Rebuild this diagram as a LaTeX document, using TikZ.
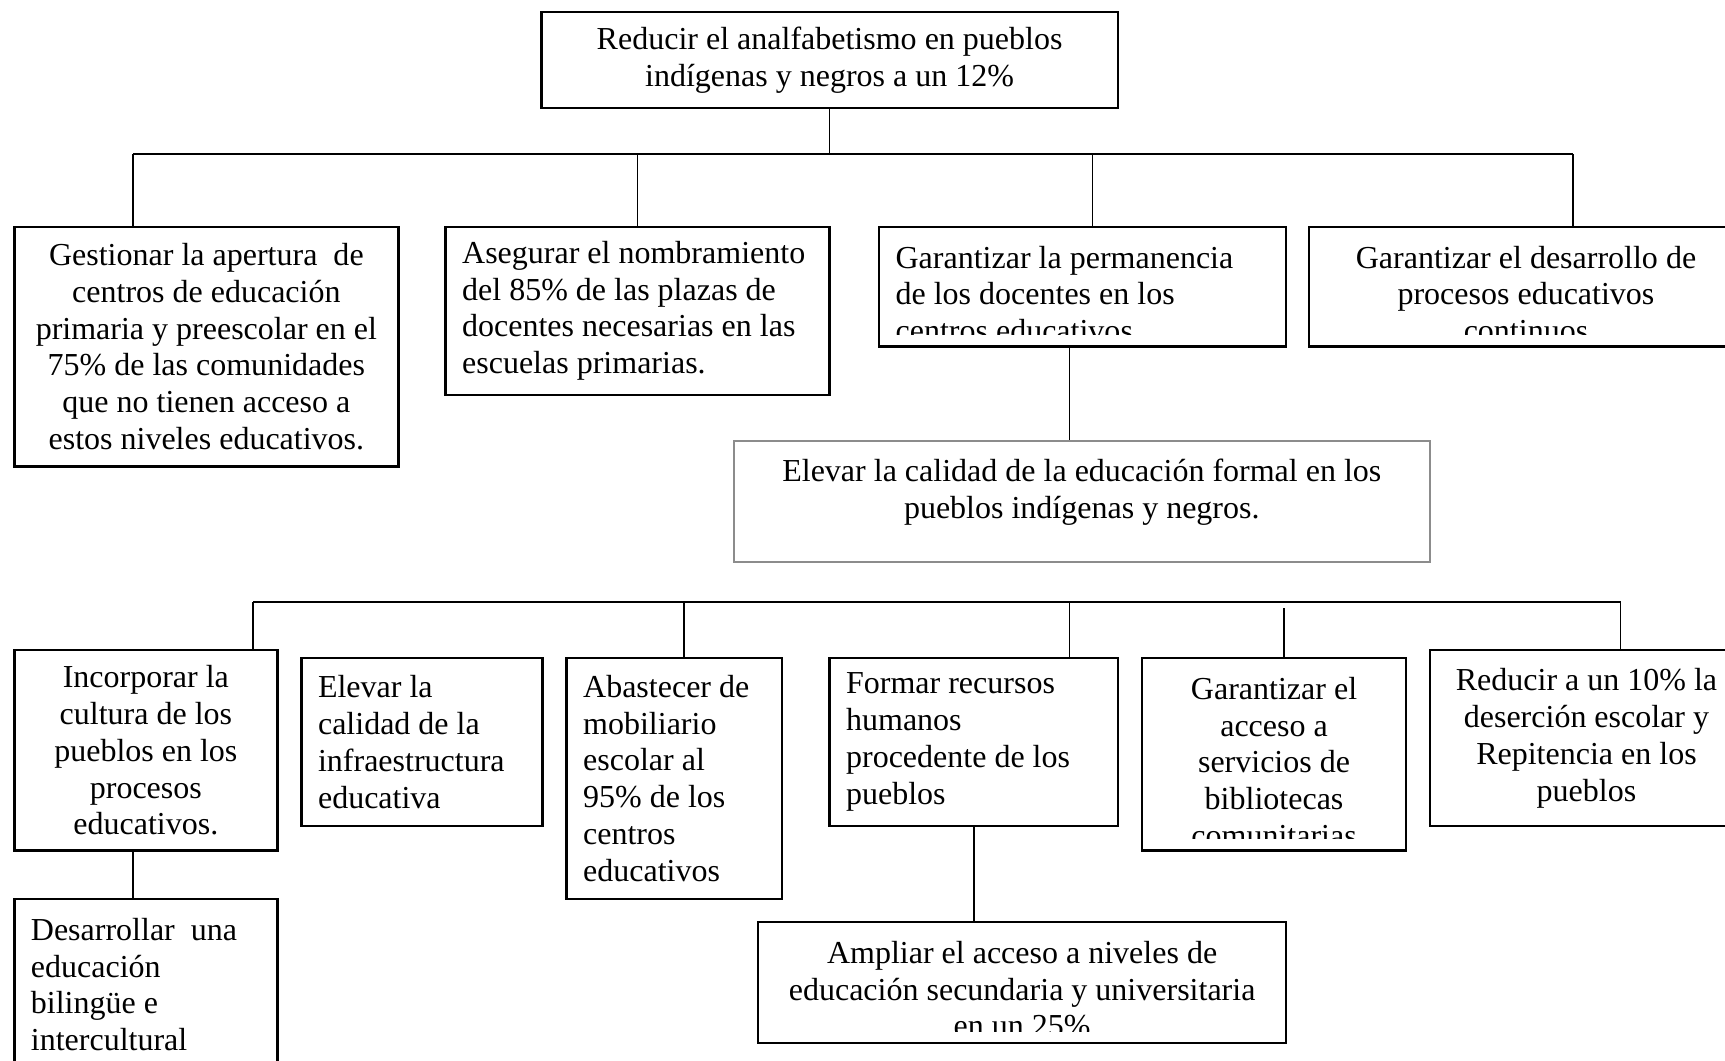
\documentclass[tikz,border=0pt]{standalone}
\usepackage{fontspec}
\setmainfont{Liberation Serif}
\usepackage{tikz}
\def\dpx{0.0145cm}
\tikzset{
	box/.style 2 args={draw,line width=0.9pt,anchor=north west,inner sep=0pt,minimum width=#1*\dpx,minimum height=#2*\dpx,font=\fontsize{12}{13.8}\selectfont,align=center},
	lbox/.style 2 args={box={#1}{#2},align=flush left,text width=(#1-30)*\dpx},
	txt/.style={inner sep=0pt,anchor=north,font=\fontsize{12}{13.8}\selectfont},
	bus/.style={line width=0.9pt},
	link/.style={line width=0.6pt}
}

\begin{document}
\begin{tikzpicture}[x=0.0145cm,y=-0.0145cm]
					\useasboundingbox (0,0) rectangle (1568,964);

					\node [box={524}{87}] (root) at (491,10) {Reducir el analfabetismo en pueblos\\indígenas y negros a un 12\%};
					\node [box={349}{218}] (b1) at (12,205) {Gestionar la apertura\ \ de\\centros de educación\\primaria y preescolar en el\\75\% de las comunidades\\que no tienen acceso a\\estos niveles educativos.};
					\node [lbox={349}{153}] (b2) at (404,205) {Asegurar el nombramiento\\del 85\% de las plazas de\\docentes necesarias en las\\escuelas primarias.};
					\node [box={370}{109}] (b3) at (798,205) {};
					\node [box={394}{109}] (b4) at (1189,205) {};
					\node [box={633}{110},draw=black!45,line width=0.7pt] (mid) at (666,400) {};

					\node [box={239}{182}] (a) at (12,590) {Incorporar la\\cultura de los\\pueblos en los\\procesos\\educativos.};
					\node [lbox={219}{153}] (b) at (273,597) {Elevar la\\calidad de la\\infraestructura\\educativa};
					\node [lbox={196}{219}] (c) at (514,597) {Abastecer de\\mobiliario\\escolar al\\95\% de los\\centros\\educativos};
					\node [lbox={262}{153}] (d) at (753,597) {Formar recursos\\humanos\\procedente de los\\pueblos};
					\node [box={240}{175}] (e) at (1037,597) {};
					\node [box={284}{160}] (f) at (1299,590) {Reducir a un 10\% la\\deserción escolar y\\Repitencia en los\\pueblos};
					\node [box={239}{200}] (sub) at (12,816) {};
					\node [box={480}{110}] (amp) at (688,837) {};

					% texts cut at the bottom of their boxes
					\begin{scope}
						\clip ([yshift=12*\dpx]b3.south west) rectangle (b3.north east);
						\node [txt,align=flush left,text width=340*\dpx] (t3) at ([yshift=-18*\dpx]b3.north) {Garantizar la permanencia\\de los docentes en los\\centros educativos};
					\end{scope}
					\begin{scope}
						\clip ([yshift=12*\dpx]b4.south west) rectangle (b4.north east);
						\node [txt,align=center] (t4) at ([yshift=-18*\dpx]b4.north) {Garantizar el desarrollo de\\procesos educativos\\continuos};
					\end{scope}
					\begin{scope}
						\clip ([yshift=12*\dpx]e.south west) rectangle (e.north east);
						\node [txt,align=center] (te) at ([yshift=-18*\dpx]e.north) {Garantizar el\\acceso a\\servicios de\\bibliotecas\\comunitarias};
					\end{scope}
					\begin{scope}
						\clip ([yshift=12*\dpx]amp.south west) rectangle (amp.north east);
						\node [txt,align=center] (tamp) at ([yshift=-18*\dpx]amp.north) {Ampliar el acceso a niveles de\\educación secundaria y universitaria\\en un 25\%};
					\end{scope}
					\node [txt,align=center] (tmid) at ([yshift=-17*\dpx]mid.north) {Elevar la calidad de la educación formal en los\\pueblos indígenas y negros.};
					\node [txt,align=flush left,text width=209*\dpx] (tsub) at ([yshift=-18*\dpx]sub.north) {Desarrollar\ \ una\\educación\\bilingüe e\\intercultural};

					\coordinate (j1) at (121,140);
					\coordinate (j3) at (993,140);
					\coordinate (j4) at (1430,140);
					\coordinate (k1) at (230,547);
					\coordinate (k2) at (622,547);
					\coordinate (k3) at (972,547);
					\coordinate (k5) at (1167,553);
					\coordinate (k6) at (1473,547);

					\draw [link] (root.south) -- (root.south |- j1);
					\draw [bus] (j1) -- (j4);
					\draw [link] (j1) -- (j1 |- b1.north);
					\draw [link] (b2.north |- j1) -- (b2.north);
					\draw [link] (j3) -- (j3 |- b3.north);
					\draw [link] (j4) -- (j4 |- b4.north);
					\draw [link] (b3.south -| k3) -- (mid.north -| k3);

					\draw [bus] (k1) -- (k6);
					\draw [link] (k1) -- (k1 |- a.north);
					\draw [link] (k2) -- (k2 |- c.north);
					\draw [link] (k3) -- (k3 |- d.north);
					\draw [link] (k5) -- (k5 |- e.north);
					\draw [link] (k6) -- (k6 |- f.north);
					\draw [link] (a.south -| j1) -- (sub.north -| j1);
					\draw [link] (d.south) -- (d.south |- amp.north);
				\end{tikzpicture}
\end{document}
